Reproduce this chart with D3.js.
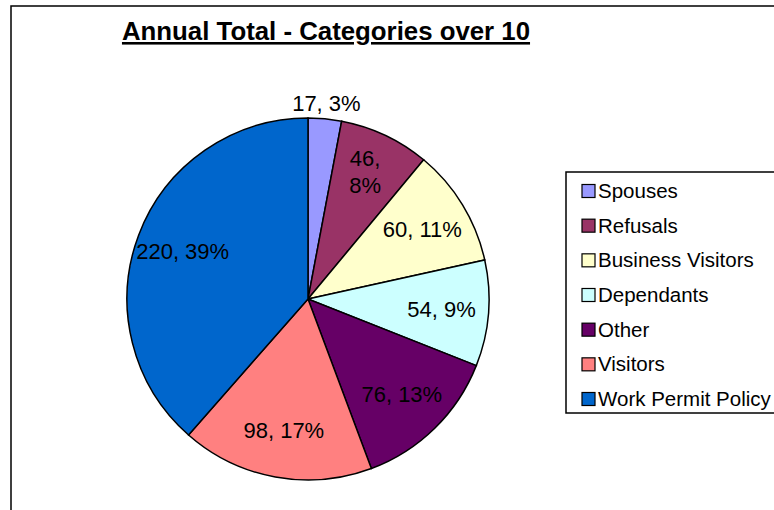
<!DOCTYPE html>
<html>
<head>
<meta charset="utf-8">
<script src="https://cdn.jsdelivr.net/npm/d3@7"></script>
<style>
  body { margin: 0; background: #fff; }
  text { font-family: "Liberation Sans", Arial, sans-serif; }
</style>
</head>
<body>
<div id="chart"></div>
<script>
// data
const categories = ["Spouses", "Refusals", "Business Visitors", "Dependants", "Other", "Visitors", "Work Permit Policy"];
const counts = [17, 46, 60, 54, 76, 98, 220];
const colours = ["#9999FF", "#993366", "#FFFFCC", "#CCFFFF", "#660066", "#FF8080", "#0066CC"];
const title = "Annual Total - Categories over 10";

const svgWidth = 774;
const svgHeight = 510;

const svg = d3.select("#chart")
  .append("svg")
  .attr("width", svgWidth)
  .attr("height", svgHeight);

// outer chart frame (runs off the right and bottom edges)
svg.append("rect")
  .attr("x", 11)
  .attr("y", 6)
  .attr("width", svgWidth + 20)
  .attr("height", svgHeight + 20)
  .attr("fill", "#fff")
  .attr("stroke", "#000")
  .attr("stroke-width", 1.5);

// title
svg.append("text")
  .attr("x", 326)
  .attr("y", 40)
  .attr("text-anchor", "middle")
  .attr("font-size", "25.8px")
  .attr("font-weight", "bold")
  .attr("text-decoration", "underline")
  .text(title);

// pie
const cx = 308, cy = 299, radius = 181;
const total = d3.sum(counts);
const data = categories.map((c, i) => ({ name: c, value: counts[i], colour: colours[i] }));

const pie = d3.pie().sort(null).value(d => d.value).startAngle(0);
const arcs = pie(data);
const arc = d3.arc().innerRadius(0).outerRadius(radius);

const pieGroup = svg.append("g")
  .attr("transform", `translate(${cx},${cy})`);

pieGroup.selectAll("path")
  .data(arcs)
  .enter()
  .append("path")
  .attr("d", arc)
  .attr("fill", d => d.data.colour)
  .attr("stroke", "#000")
  .attr("stroke-width", 1.5);

// labels: value, percent
const inside = d3.arc().innerRadius(radius * 0.74).outerRadius(radius * 0.74);
const outside = d3.arc().innerRadius(radius + 16).outerRadius(radius + 16);

const labels = pieGroup.selectAll("text.lbl")
  .data(arcs)
  .enter()
  .append("text")
  .attr("class", "lbl")
  .attr("font-size", "22px")
  .attr("fill", "#000")
  .attr("text-anchor", "middle")
  .attr("transform", d => {
    const frac = d.data.value / total;
    const p = frac < 0.05 ? outside.centroid(d) : inside.centroid(d);
    return `translate(${p[0]},${p[1]})`;
  });

labels.each(function(d) {
  const frac = d.data.value / total;
  const pct = Math.round(frac * 100) + "%";
  const t = d3.select(this);
  if (frac >= 0.05 && frac < 0.09) {
    // narrow slice: value and percent on two lines
    t.append("tspan").attr("x", 0).attr("dy", "-0.55em").text(d.data.value + ",");
    t.append("tspan").attr("x", 0).attr("dy", "1.22em").text(pct);
  } else {
    t.append("tspan").attr("x", 0).attr("dy", "0.35em").text(d.data.value + ", " + pct);
  }
});

// legend
const legend = svg.append("g");
legend.append("rect")
  .attr("x", 566)
  .attr("y", 172)
  .attr("width", 240)
  .attr("height", 241)
  .attr("fill", "#fff")
  .attr("stroke", "#000")
  .attr("stroke-width", 1.5);

const legendY = d3.scalePoint()
  .domain(categories)
  .range([191, 399]);

const items = legend.selectAll("g.item")
  .data(data)
  .enter()
  .append("g")
  .attr("class", "item")
  .attr("transform", d => `translate(582,${legendY(d.name)})`);

items.append("rect")
  .attr("x", 0)
  .attr("y", -6.5)
  .attr("width", 13)
  .attr("height", 13)
  .attr("fill", d => d.colour)
  .attr("stroke", "#000")
  .attr("stroke-width", 1.2);

items.append("text")
  .attr("x", 16)
  .attr("y", 7)
  .attr("font-size", "20.5px")
  .text(d => d.name);
</script>
</body>
</html>
